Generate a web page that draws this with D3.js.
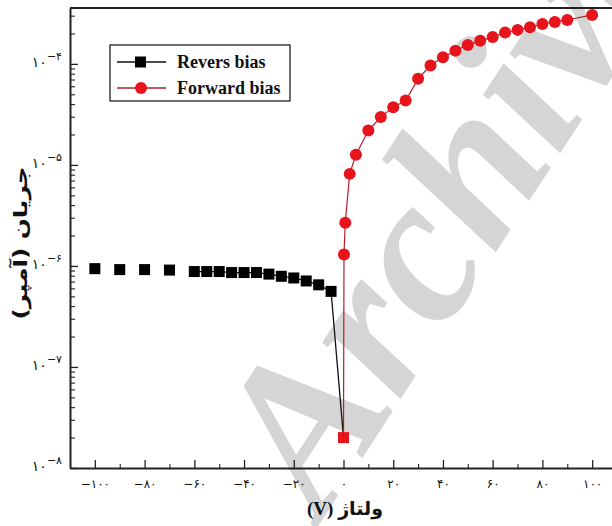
<!DOCTYPE html>
<html>
<head>
<meta charset="utf-8">
<script src="https://cdn.jsdelivr.net/npm/d3@7"></script>
<style>
  html, body { margin: 0; padding: 0; background: #fff; }
  svg { display: block; }
</style>
</head>
<body>
<svg id="chart" width="612" height="526"></svg>
<script>
// ---- data ----
const reverseX = [-100, -90, -80, -70, -60, -55, -50, -45, -40, -35, -30, -25, -20, -15, -10, -5, 0];
const reverseY = [9.4e-7, 9.2e-7, 9.2e-7, 9.1e-7, 8.8e-7, 8.8e-7, 8.8e-7, 8.6e-7, 8.6e-7, 8.6e-7, 8.3e-7, 7.9e-7, 7.6e-7, 7.1e-7, 6.5e-7, 5.6e-7, 2.0e-8];
const forwardX = [0, 0.2, 0.7, 2.5, 5, 10, 15, 20, 25, 30, 35, 40, 45, 50, 55, 60, 65, 70, 75, 80, 85, 90, 100];
const forwardY = [2.0e-8, 1.30e-6, 2.67e-6, 8.15e-6, 1.26e-5, 2.19e-5, 2.98e-5, 3.73e-5, 4.34e-5, 7.11e-5, 9.62e-5, 1.16e-4, 1.35e-4, 1.54e-4, 1.69e-4, 1.84e-4, 2.04e-4, 2.17e-4, 2.30e-4, 2.48e-4, 2.60e-4, 2.72e-4, 3.05e-4];
const seriesNames = ["Revers bias", "Forward bias"];

const xTicks = [-100, -80, -60, -40, -20, 0, 20, 40, 60, 80, 100];
const xTickLabels = ["−۱۰۰", "−۸۰", "−۶۰", "−۴۰", "−۲۰", "۰", "۲۰", "۴۰", "۶۰", "۸۰", "۱۰۰"];
const xMinorTicks = [-110, -90, -70, -50, -30, -10, 10, 30, 50, 70, 90, 110];
const yTicks = [1e-8, 1e-7, 1e-6, 1e-5, 1e-4];
const yTickExp = ["−۸", "−۷", "−۶", "−۵", "−۴"];
const xTitle = "ولتاژ (V)";
const yTitle = "جریان (آمپر)";
const watermark = "Archive";

// ---- layout ----
const svg = d3.select("#chart");
const mLeft = 70, mRight = 617, mTop = 8, mBottom = 468;

const x = d3.scaleLinear().domain([-110, 110]).range([mLeft, mRight]);
const y = d3.scaleLog().domain([1e-8, Math.pow(10, -3.447)]).range([mBottom, mTop]);

// watermark (behind data)
svg.append("text")
  .attr("transform", "translate(322,520) rotate(-57)")
  .attr("font-family", "Liberation Serif, serif")
  .attr("font-weight", "bold")
  .attr("font-style", "italic")
  .attr("font-size", 210)
  .attr("fill", "#d5d5d5")
  .text(watermark);

// minor y ticks
const yMinor = [];
for (let e = -8; e <= -4; e++) for (let m = 2; m <= 9; m++) {
  const v = m * Math.pow(10, e);
  if (v <= y.domain()[1]) yMinor.push(v);
}

const axisColor = "#222";

// x axis
const gx = svg.append("g").attr("transform", `translate(0,${mBottom})`)
  .call(d3.axisBottom(x).tickValues(xTicks).tickSize(-8).tickSizeOuter(0)
    .tickFormat((d, i) => xTickLabels[i]));
gx.select(".domain").attr("stroke", axisColor).attr("stroke-width", 2);
gx.selectAll(".tick line").attr("stroke", axisColor).attr("stroke-width", 1.3);
gx.selectAll(".tick text")
  .attr("font-family", "DejaVu Sans, sans-serif")
  .attr("font-size", 12)
  .attr("fill", "#111")
  .attr("y", 11);
const gxm = svg.append("g").attr("transform", `translate(0,${mBottom})`)
  .call(d3.axisBottom(x).tickValues(xMinorTicks).tickSize(-4).tickSizeOuter(0).tickFormat(""));
gxm.select(".domain").remove();
gxm.selectAll(".tick line").attr("stroke", axisColor).attr("stroke-width", 1.1);

// y axis
const gy = svg.append("g").attr("transform", `translate(${mLeft},0)`)
  .call(d3.axisLeft(y).tickValues(yTicks).tickSize(-8).tickSizeOuter(0).tickFormat(() => ""));
gy.select(".domain").attr("stroke", axisColor).attr("stroke-width", 2);
gy.selectAll(".tick line").attr("stroke", axisColor).attr("stroke-width", 1.3);
gy.selectAll(".tick text").each(function(d, i) {
  const t = d3.select(this)
    .attr("font-family", "DejaVu Sans, sans-serif")
    .attr("fill", "#111")
    .attr("x", -8)
    .attr("dy", "0.25em")
    .attr("text-anchor", "end");
  t.append("tspan").attr("font-size", 14).text("۱۰");
  t.append("tspan").attr("font-size", 11).attr("dy", "-0.6em").text(yTickExp[i]);
});
const gym = svg.append("g").attr("transform", `translate(${mLeft},0)`)
  .call(d3.axisLeft(y).tickValues(yMinor).tickSize(-5).tickSizeOuter(0).tickFormat(""));
gym.select(".domain").remove();
gym.selectAll(".tick line").attr("stroke", axisColor).attr("stroke-width", 1.1);

// top frame line
svg.append("line")
  .attr("x1", x(-110)).attr("x2", 612).attr("y1", y(y.domain()[1])).attr("y2", y(y.domain()[1]))
  .attr("stroke", axisColor).attr("stroke-width", 2);

// axis titles
svg.append("text")
  .attr("x", 345).attr("y", 515)
  .attr("text-anchor", "middle")
  .attr("direction", "rtl")
  .attr("font-family", "Liberation Serif, DejaVu Sans, serif")
  .attr("font-weight", "bold")
  .attr("font-size", 19)
  .attr("fill", "#111")
  .text(xTitle);
svg.append("text")
  .attr("transform", `translate(27,243) rotate(-90) scale(1.3,1)`)
  .attr("text-anchor", "middle")
  .attr("direction", "rtl")
  .attr("font-family", "DejaVu Sans, sans-serif")
  .attr("font-weight", "bold")
  .attr("font-size", 19)
  .attr("fill", "#111")
  .text(yTitle);

// data
const rev = reverseX.map((v, i) => ({ x: v, y: reverseY[i] }));
const fwd = forwardX.map((v, i) => ({ x: v, y: forwardY[i] }));
const line = d3.line().x(d => x(d.x)).y(d => y(d.y));

svg.append("path")
  .datum(rev.filter(d => d.x >= -60))
  .attr("d", line).attr("fill", "none").attr("stroke", "#111").attr("stroke-width", 1.3);
svg.selectAll("rect.rev").data(rev).enter().append("rect")
  .attr("class", "rev")
  .attr("x", d => x(d.x) - 5.5).attr("y", d => y(d.y) - 5.5)
  .attr("width", 11).attr("height", 11)
  .attr("fill", d => d.x === 0 ? "#e8141c" : "#000");

svg.append("path")
  .datum(fwd)
  .attr("d", line).attr("fill", "none").attr("stroke", "#b0202a").attr("stroke-width", 1.2);
svg.selectAll("circle.fwd").data(fwd.filter(d => d.x !== 0)).enter().append("circle")
  .attr("class", "fwd")
  .attr("cx", d => x(d.x)).attr("cy", d => y(d.y)).attr("r", 6)
  .attr("fill", "#e8141c");

// legend
const lg = svg.append("g");
lg.append("rect").attr("x", 110).attr("y", 45).attr("width", 180).attr("height", 56)
  .attr("fill", "#fff").attr("stroke", "#222").attr("stroke-width", 1.3);
const rows = [
  { name: seriesNames[0], color: "#000", shape: "square", yy: 62 },
  { name: seriesNames[1], color: "#e8141c", shape: "circle", yy: 88 }
];
rows.forEach(r => {
  lg.append("line").attr("x1", 117).attr("x2", 166).attr("y1", r.yy).attr("y2", r.yy)
    .attr("stroke", r.shape === "square" ? "#111" : "#b0202a").attr("stroke-width", 1.3);
  if (r.shape === "square") {
    lg.append("rect").attr("x", 135).attr("y", r.yy - 5.5).attr("width", 11).attr("height", 11).attr("fill", r.color);
  } else {
    lg.append("circle").attr("cx", 141).attr("cy", r.yy).attr("r", 6).attr("fill", r.color);
  }
  lg.append("text").attr("x", 177).attr("y", r.yy + 6)
    .attr("font-family", "Liberation Serif, serif")
    .attr("font-weight", "bold").attr("font-size", 18).attr("fill", "#111")
    .text(r.name);
});
</script>
</body>
</html>
